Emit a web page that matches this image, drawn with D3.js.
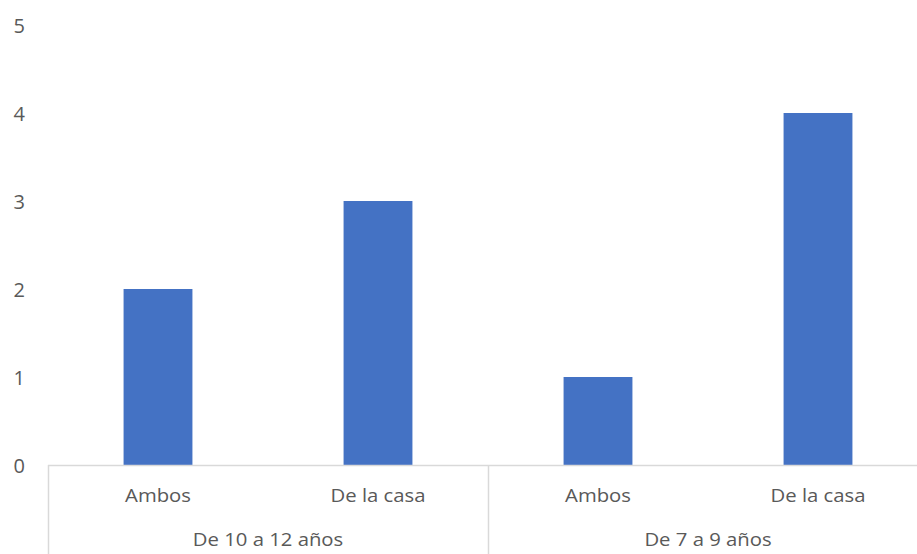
<!DOCTYPE html>
<html><head><meta charset="utf-8">
<script src="https://cdn.jsdelivr.net/npm/d3@7"></script>
<style>body{margin:0;background:#fff}svg{display:block}text{font-family:"Open Sans",sans-serif;fill:#595959}</style>
</head><body><svg id="c" width="917" height="554"></svg>
<script>
const groups = ["De 10 a 12 años", "De 7 a 9 años"];
const subcats = ["Ambos", "De la casa"];
const values = [2, 3, 1, 4];
const yTicks = [0, 1, 2, 3, 4, 5];

(function () {
const rows = [];
groups.forEach((g, gi) => subcats.forEach((s, si) => rows.push({g, s, key: g + "|" + s, v: values[gi * subcats.length + si]})));

const svg = d3.select("#c");
const left = 48, step = 220, plotTop = 25, plotBottom = 465;
const sx = 1.16;
const x = d3.scaleBand().domain(rows.map(d => d.key)).range([left, left + step * rows.length]).padding(0);
const y = d3.scaleLinear().domain([0, 5]).range([plotBottom, plotTop]);
const barW = x.bandwidth() * 0.313;

svg.selectAll("rect.bar").data(rows).join("rect").attr("class", "bar")
  .attr("x", d => x(d.key) + x.bandwidth() / 2 - barW / 2)
  .attr("y", d => y(d.v)).attr("width", barW).attr("height", d => y(0) - y(d.v))
  .attr("fill", "#4472C4");

svg.selectAll("text.yt").data(yTicks).join("text").attr("class", "yt")
  .attr("x", 25).attr("y", d => y(d) + 0.5)
  .attr("dy", "0.35em").attr("text-anchor", "end")
  .attr("font-size", 20).text(d => d);

const lc = "#d9d9d9";
svg.append("line").attr("x1", left).attr("x2", 917).attr("y1", plotBottom + 0.5).attr("y2", plotBottom + 0.5).attr("stroke", lc).attr("stroke-width", 1.5);
const seps = [left, x(rows[2].key), left + step * rows.length];
svg.selectAll("line.sep").data(seps).join("line").attr("class", "sep")
  .attr("x1", d => Math.round(d) + 0.5).attr("x2", d => Math.round(d) + 0.5)
  .attr("y1", plotBottom).attr("y2", 554).attr("stroke", lc).attr("stroke-width", 1.5);

svg.selectAll("text.cat").data(rows).join("text").attr("class", "cat")
  .attr("transform", d => `translate(${x(d.key) + x.bandwidth() / 2},502) scale(${sx},1)`)
  .attr("text-anchor", "middle")
  .attr("font-size", 17.5).text(d => d.s);

svg.selectAll("text.grp").data(groups).join("text").attr("class", "grp")
  .attr("transform", (g, i) => `translate(${left + step * 2 * i + step},546) scale(${sx},1)`)
  .attr("text-anchor", "middle")
  .attr("font-size", 17.5).text(d => d);
})();
</script></body></html>
